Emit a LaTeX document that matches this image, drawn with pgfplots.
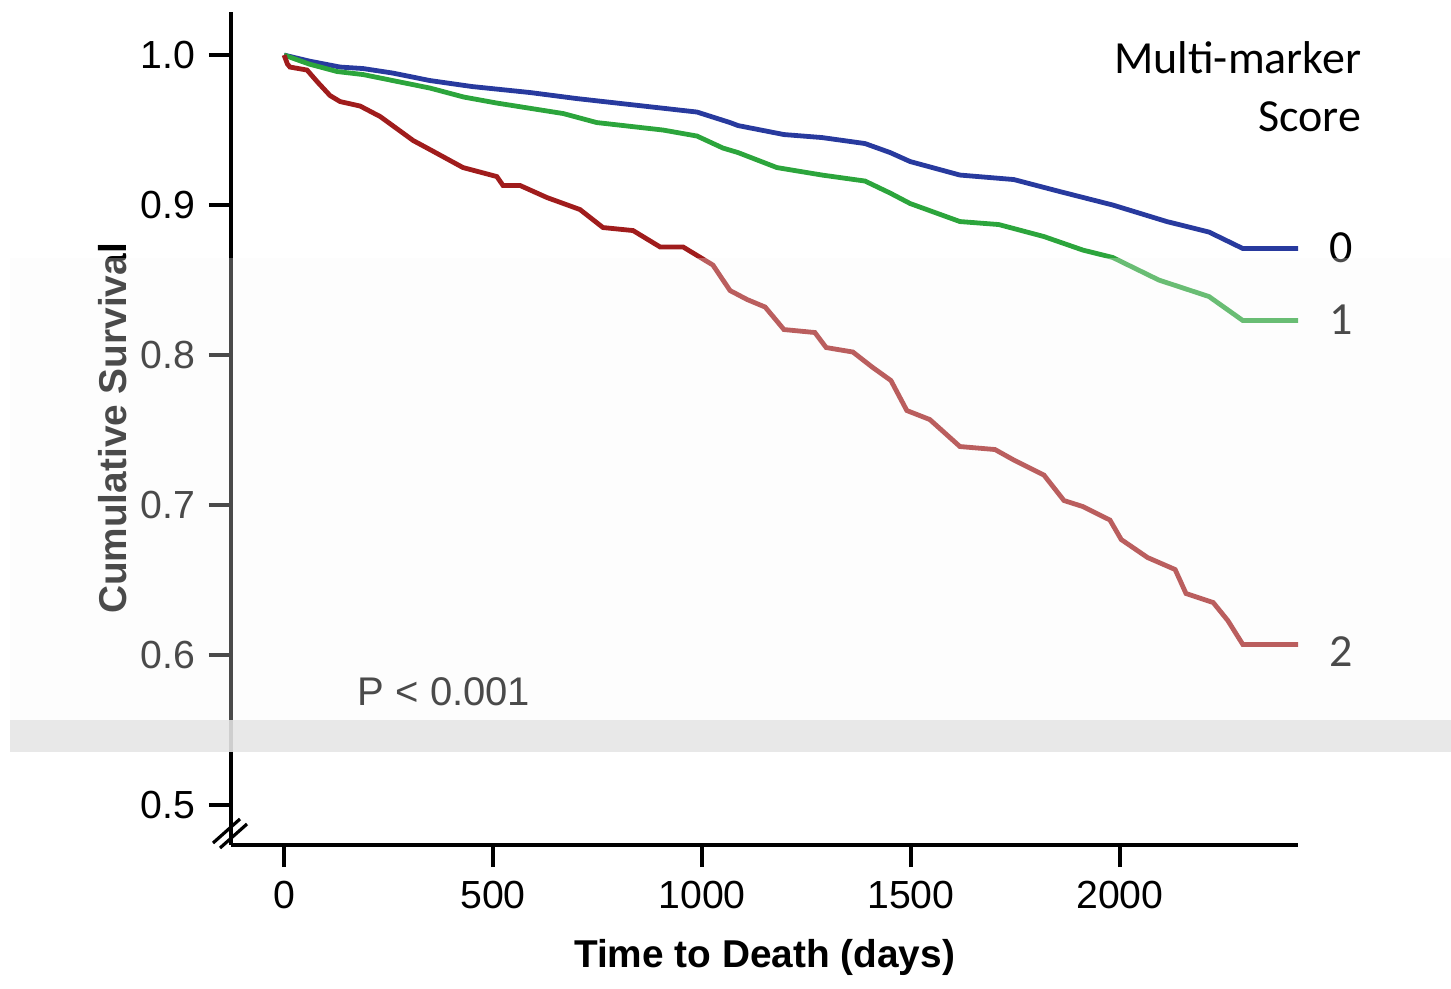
\documentclass[border=0pt]{standalone}
\usepackage{fontspec}
\setmainfont{Liberation Sans}
\newfontfamily\calibri{Carlito}
\usepackage{pgfplots}
\pgfplotsset{compat=1.18}
\definecolor{kmblue}{RGB}{40,58,158}
\definecolor{kmgreen}{RGB}{44,165,60}
\definecolor{kmred}{RGB}{160,28,28}

\begin{document}
\begin{tikzpicture}
% page frame in reference pixels (1 px = 0.25 pt)
\begin{scope}[x=0.25pt,y=-0.25pt]
  \path (0,0) rectangle (1451,988);
\end{scope}

\begin{axis}[
  at={(57.75pt,-211.25pt)}, anchor=south west,
  scale only axis, width=266.75pt, height=208.25pt,
  xmin=-127, xmax=2426, ymin=0.47333, ymax=1.0287,
  axis x line=bottom, axis y line=left,
  axis line style={-, line width=0.8pt, black},
  xtick={0,500,1000,1500,2000},
  xticklabels={0,500,1000,1500,2000},
  ytick={0.5,0.6,0.7,0.8,0.9,1.0},
  yticklabels={0.5,0.6,0.7,0.8,0.9,1.0},
  tick align=outside, major tick length=5.5pt,
  tick style={line width=0.8pt, black},
  ticklabel style={font=\fontsize{9.8}{11}\selectfont},
  xlabel={Time to Death (days)}, ylabel={Cumulative Survival},
  label style={font=\bfseries\fontsize{9.7}{11}\selectfont},
  x label style={at={(axis description cs:0.5,-0.1345)}, anchor=center},
  y label style={at={(axis description cs:-0.1106,0.5)}, anchor=center},
  clip=false,
]
% score 0
\addplot[kmblue, line width=1.2pt] coordinates {
  (0,1.0)(60,0.996)(134,0.992)(189,0.991)(260,0.988)(349,0.983)(450,0.979)
  (589,0.975)(700,0.971)(828,0.967)(988,0.962)(1067,0.955)(1086,0.953)
  (1196,0.947)(1287,0.945)(1390,0.941)(1450,0.935)(1498,0.929)(1617,0.920)
  (1746,0.917)(1856,0.909)(1983,0.900)(2112,0.889)(2213,0.882)(2294,0.871)
  (2426,0.871)
};
% score 1
\addplot[kmgreen, line width=1.2pt] coordinates {
  (0,1.0)(60,0.994)(127,0.989)(189,0.987)(260,0.983)(349,0.978)(430,0.972)
  (509,0.968)(668,0.961)(748,0.955)(907,0.950)(988,0.946)(1050,0.938)
  (1086,0.935)(1179,0.925)(1287,0.920)(1390,0.916)(1450,0.908)(1498,0.901)
  (1617,0.889)(1710,0.887)(1818,0.879)(1911,0.870)(1983,0.865)(2093,0.850)
  (2213,0.839)(2294,0.823)(2426,0.823)
};
% score 2
\addplot[kmred, line width=1.2pt] coordinates {
  (0,1.0)(8,0.994)(14,0.992)(55,0.990)(80,0.982)(110,0.973)(134,0.969)
  (182,0.966)(230,0.959)(309,0.943)(349,0.937)(428,0.925)(509,0.919)
  (524,0.913)(565,0.913)(629,0.905)(708,0.897)(763,0.885)(835,0.883)
  (900,0.872)(955,0.872)(1026,0.860)(1067,0.843)(1108,0.837)(1151,0.832)
  (1196,0.817)(1270,0.815)(1297,0.805)(1361,0.802)(1407,0.792)(1452,0.783)
  (1490,0.763)(1545,0.757)(1617,0.739)(1701,0.737)(1746,0.730)(1818,0.720)
  (1866,0.703)(1911,0.699)(1976,0.690)(2003,0.677)(2066,0.665)(2132,0.657)
  (2158,0.641)(2223,0.635)(2258,0.623)(2294,0.607)(2426,0.607)
};
\end{axis}

\begin{scope}[x=0.25pt,y=-0.25pt]
  % axis break
  \draw[line width=0.8pt] (213,843) -- (240,819);
  \draw[line width=0.8pt] (220,848) -- (247,824);
  % annotations
  \node[anchor=east, inner sep=0, font=\calibri\fontsize{11.5}{13}\selectfont] at (1362,58) {Multi-marker};
  \node[anchor=east, inner sep=0, font=\calibri\fontsize{11.5}{13}\selectfont] at (1362,117) {Score};
  \node[inner sep=0, font=\calibri\fontsize{11.5}{13}\selectfont] at (1341,248) {0};
  \node[inner sep=0, font=\calibri\fontsize{11.5}{13}\selectfont] at (1341,320) {1};
  \node[inner sep=0, font=\calibri\fontsize{11.5}{13}\selectfont] at (1341,652) {2};
  \node[anchor=west, inner sep=0, font=\fontsize{10}{12}\selectfont] at (357,692) {P < 0.001};
  % light band of the page
  \fill[white!97!black, opacity=0.3] (10,258) rectangle (1451,720);
  \fill[black!10, opacity=0.9] (10,720) rectangle (1451,752);
\end{scope}
\end{tikzpicture}
\end{document}
